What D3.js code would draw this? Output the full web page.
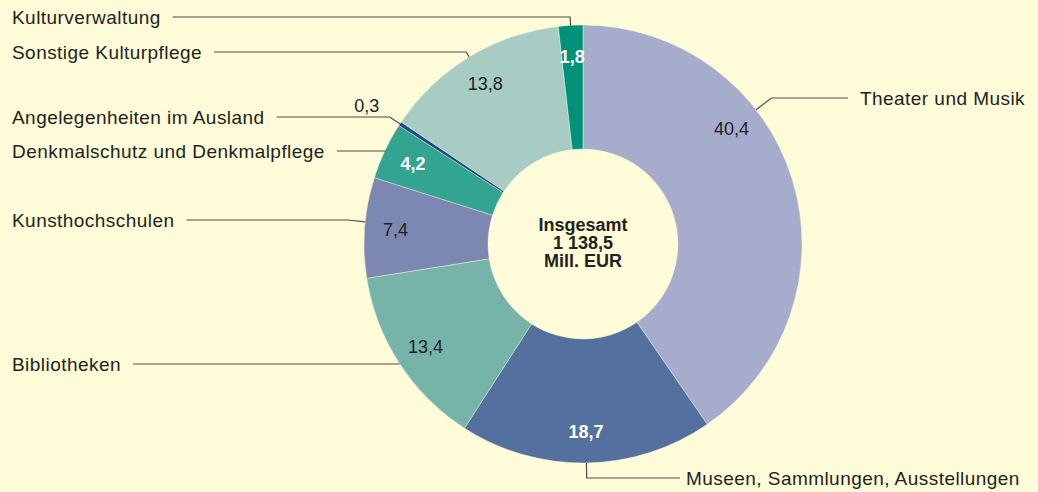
<!DOCTYPE html>
<html>
<head>
<meta charset="utf-8">
<script src="https://cdn.jsdelivr.net/npm/d3@7"></script>
<style>
    body { margin: 0; background: #fefbd9; }
    svg { display: block; }
    text { font-family: "Liberation Sans", Arial, sans-serif; fill: #231f20; }
</style>
</head>
<body>
<div id="chart"></div>
<script>
// Shares of culture spending in %
const categories = [
    "Theater und Musik",
    "Museen, Sammlungen, Ausstellungen",
    "Bibliotheken",
    "Kunsthochschulen",
    "Denkmalschutz und Denkmalpflege",
    "Angelegenheiten im Ausland",
    "Sonstige Kulturpflege",
    "Kulturverwaltung"
];
const shares = [40.4, 18.7, 13.4, 7.4, 4.2, 0.3, 13.8, 1.8];
const valueLabels = ["40,4", "18,7", "13,4", "7,4", "4,2", "0,3", "13,8", "1,8"];
const totalLines = ["Insgesamt", "1 138,5", "Mill. EUR"];

// styling
const colors = ["#a6adcc", "#53709e", "#76b4a9", "#7c88b1", "#33a48f", "#1b4a8a", "#a6ccc3", "#00917a"];
const whiteValue = [false, true, false, false, true, false, false, true];

// where the category labels sit (left column or right side)
const labelSide = ["right", "right", "left", "left", "left", "left", "left", "left"];
const labelY = [98, 478, 364, 220, 151, 117, 52, 17];
const labelX = [860, 686, 12, 12, 12, 12, 12, 12];
const angleShift = [-20.5, 0, 0, 0, 0, 0, 0, 0]; // degrees, value label + leader
const leaderShift = [0, 0, 0, 1.5, 0, 0, 0, 0]; // degrees, leader only
const outsideValue = [false, false, false, false, false, true, false, false];

const width = 1038, height = 492;
const cx = 583, cy = 244;
const outerR = 219, innerR = 95, valueR = 188;

const svg = d3.select("#chart")
    .append("svg")
    .attr("width", width)
    .attr("height", height);

svg.append("rect")
    .attr("width", width)
    .attr("height", height)
    .attr("fill", "#fefbd9");

const pie = d3.pie().sort(null).value(d => d);
const arcs = pie(shares);

const arc = d3.arc().innerRadius(innerR).outerRadius(outerR);

const g = svg.append("g").attr("transform", `translate(${cx},${cy})`);

g.selectAll(".slice")
    .data(arcs)
    .join("path")
    .attr("class", "slice")
    .attr("d", arc)
    .attr("fill", (d, i) => colors[i])
    .attr("stroke", "#fefbd9")
    .attr("stroke-width", 0.4);

function polar(a, r) {
    return [cx + r * Math.sin(a), cy - r * Math.cos(a)];
}

function midAngle(d, i) {
    return (d.startAngle + d.endAngle) / 2 + angleShift[i] * Math.PI / 180;
}

// value labels
arcs.forEach((d, i) => {
    if (outsideValue[i]) return;
    const [x, y] = polar(midAngle(d, i), valueR);
    svg.append("text")
        .attr("x", x)
        .attr("y", y)
        .attr("dy", "0.36em")
        .attr("text-anchor", "middle")
        .style("font-size", "18px")
        .style("font-weight", whiteValue[i] ? "bold" : "normal")
        .style("fill", whiteValue[i] ? "#ffffff" : "#231f20")
        .text(valueLabels[i]);
});

// category labels and leader lines
arcs.forEach((d, i) => {
    const a = midAngle(d, i) + leaderShift[i] * Math.PI / 180;
    const P = polar(a, outerR);
    const dir = [Math.sin(a), -Math.cos(a)];
    const ty = labelY[i];
    let t = Math.abs(dir[1]) > 0.01 ? (ty - P[1]) / dir[1] : 0;
    if (t < 0) t = 0;
    t = Math.min(t, 20);
    const E = [P[0] + dir[0] * t, ty];

    const label = svg.append("text")
        .attr("x", labelX[i])
        .attr("y", ty)
        .attr("dy", "0.36em")
        .attr("text-anchor", "start")
        .style("font-size", "19px")
        .style("letter-spacing", "0.45px")
        .text(categories[i]);

    let end;
    if (labelSide[i] === "left") {
        end = labelX[i] + label.node().getComputedTextLength() + 12;
    } else {
        end = labelX[i] - (i === 1 ? 6 : 12);
    }

    svg.append("path")
        .attr("d", d3.line()([P, E, [end, ty]]))
        .attr("fill", "none")
        .attr("stroke", "#4d4d4d")
        .attr("stroke-width", 1.2);

    if (outsideValue[i]) {
        svg.append("text")
            .attr("x", E[0] - 23)
            .attr("y", ty - 5)
            .attr("text-anchor", "middle")
            .style("font-size", "18px")
            .text(valueLabels[i]);
    }
});

// total in the centre
svg.append("g")
    .selectAll("text")
    .data(totalLines)
    .join("text")
    .attr("x", cx)
    .attr("y", (d, i) => cy - 13 + i * 18)
    .attr("text-anchor", "middle")
    .style("font-size", "18px")
    .style("font-weight", "bold")
    .text(d => d);
</script>
</body>
</html>
